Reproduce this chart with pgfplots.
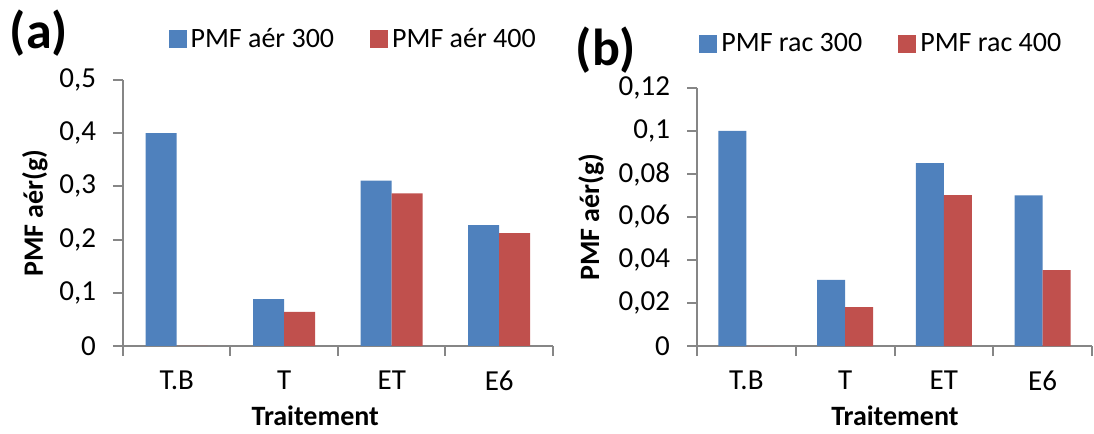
\documentclass[border=0pt]{standalone}
\usepackage{pgfplots}
\pgfplotsset{compat=1.18}
\usepackage{fontspec}
\setmainfont{Carlito}
\definecolor{xlblue}{HTML}{4F81BD}
\definecolor{xlred}{HTML}{C0504D}
\definecolor{axgray}{HTML}{868686}
\pgfplotsset{
 excel/.style={
  scale only axis,
  ybar=0pt,
  axis x line*=bottom, axis y line*=left,
  axis line style={draw=axgray, line width=1pt},
  every tick/.style={draw=axgray, line width=1pt},
  xmin=-0.5, xmax=3.5, ymin=0,
  enlargelimits=false,
  xtick={-0.5,0.5,1.5,2.5,3.5},
  x tick label as interval,
  xticklabels={T.B,T,ET,E6},
  tick align=outside,
  major tick length=5pt,
  /pgf/number format/assume math mode=true,
  /pgf/number format/use comma,
  /pgf/number format/fixed,
  /pgf/number format/precision=2,
  tick label style={font=\fontsize{14.5}{17}\selectfont, text=black},
  xticklabel style={yshift=-4pt},
  yticklabel style={xshift=-5pt},
  label style={font=\bfseries\fontsize{14}{16}\selectfont},
  legend style={draw=none, fill=none, inner sep=0pt, legend columns=2,
    font=\fontsize{14}{16}\selectfont,
    /tikz/every even column/.append style={column sep=16pt},
    anchor=west},
  legend image code/.code={\fill[##1] (0pt,-4.5pt) rectangle (9pt,4.5pt);},
 }
}
\begin{document}
\begin{tikzpicture}[x=1pt,y=1pt]
\path[use as bounding box] (0,0) rectangle (547,217);
\begin{axis}[excel,
  at={(61.5pt,44pt)}, anchor=south west,
  width=215pt, height=133pt,
  ymax=0.5, ytick={0,0.1,0.2,0.3,0.4,0.5},
  bar width=15.5pt,
  xlabel={Traitement},
  ylabel={PMF aér(g)},
  xlabel style={at={(axis description cs:0.447,-0.263)}, anchor=center},
  ylabel style={at={(axis description cs:-0.205,0.5)}, anchor=center, rotate=0},
  legend style={at={(axis description cs:0.105,1.154)}},
]
\addplot[fill=xlblue, draw=none] coordinates {(0,0.400) (1,0.088) (2,0.311) (3,0.227)};
\addplot[fill=xlred, draw=none] coordinates {(0,0) (1,0.064) (2,0.287) (3,0.212)};
\legend{PMF aér 300, PMF aér 400}
\end{axis}
\begin{axis}[excel,
  at={(348.5pt,44pt)}, anchor=south west,
  width=197.5pt, height=129pt,
  ymax=0.12, ytick={0,0.02,0.04,0.06,0.08,0.1,0.12},
  bar width=14pt,
  xlabel={Traitement},
  ylabel={PMF aér(g)},
  xlabel style={at={(axis description cs:0.501,-0.271)}, anchor=center},
  ylabel style={at={(axis description cs:-0.268,0.5)}, anchor=center, rotate=0},
  legend style={at={(axis description cs:0.005,1.171)}},
]
\addplot[fill=xlblue, draw=none] coordinates {(0,0.100) (1,0.0307) (2,0.0851) (3,0.0700)};
\addplot[fill=xlred, draw=none] coordinates {(0,0) (1,0.0181) (2,0.0702) (3,0.0353)};
\legend{PMF rac 300, PMF rac 400}
\end{axis}
\node[font=\bfseries\fontsize{26}{28}\selectfont] at (19.5,200.5) {(a)};
\node[font=\bfseries\fontsize{26}{28}\selectfont] at (303,192) {(b)};
\end{tikzpicture}
\end{document}
